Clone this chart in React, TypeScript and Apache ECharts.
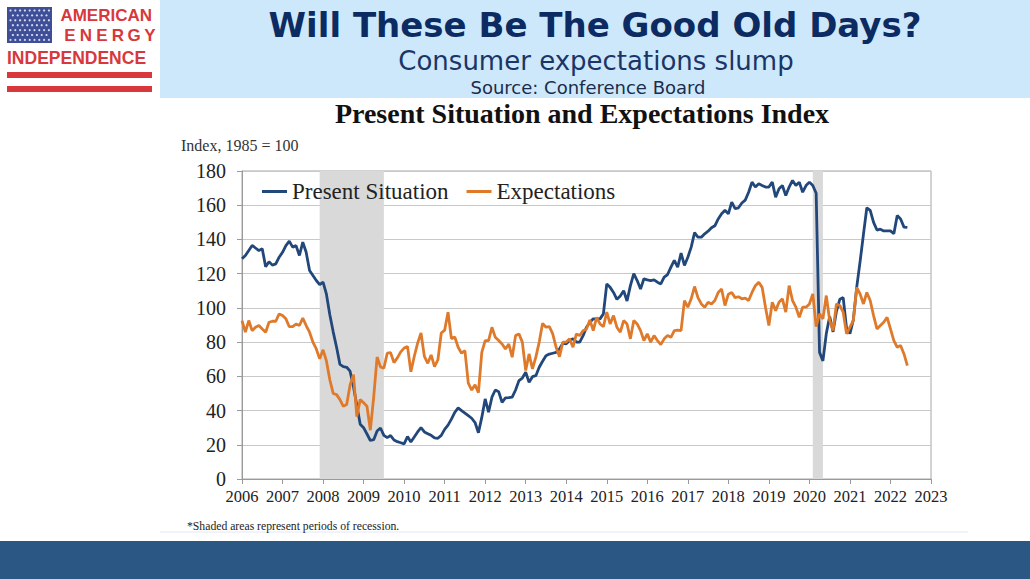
import React, { useEffect, useRef } from "react";
import * as echarts from "echarts";

const startYear = 2006;
const seriesNames = ["Present Situation", "Expectations"];
const xMin = 2006;
const xMax = 2023;
const yMax = 180;

// Monthly values, Jan 2006 .. Jun 2022
const presentSituation = [
  128.7, 130.6, 133.5, 136.5, 135, 133.5, 134.5, 124, 127, 125, 125.7, 129.6,
  132.5, 136.4, 139, 135.5, 136.4, 130.6, 138.4, 132.5, 121.8, 118.9, 116, 113.6,
  115, 108, 96, 86, 77, 67, 65.7, 65.3, 63, 54, 43, 32,
  30, 26.3, 22.5, 23, 28, 29.8, 25.5, 24.2, 25.4, 22.8, 21.8, 21.2,
  20.5, 24.8, 21.6, 24.5, 27.5, 30, 27.5, 26.5, 25.5, 24, 23.8, 25.5,
  29, 31.5, 35, 39, 41.5, 40, 38.5, 37, 35.5, 33, 27, 36,
  46.8, 39, 47.8, 52, 51, 44.8, 47.4, 47.5, 47.8, 52, 57.5, 59,
  62.4, 56.5, 59.8, 60.4, 65.3, 68.8, 72, 73, 73.5, 74, 76, 79.3,
  79, 80.9, 81.9, 80, 80, 83.8, 88.7, 91.6, 93.6, 93.6, 93.6, 96.5,
  114, 112, 109, 105, 107, 110, 104, 113, 120, 116, 111, 117,
  116.4, 116, 116.4, 115, 114, 118, 119.5, 123.8, 127.7, 123.8, 132, 124.8,
  129.6, 135.5, 144, 141.3, 141.3, 143.3, 144.8, 146.8, 148, 152, 155, 157,
  155, 161.8, 158, 158.5, 161.3, 163, 167.6, 173.5, 170.6, 172.5, 171.5, 170.6,
  170.6, 173.5, 164.7, 169.6, 171.5, 165.7, 170.6, 174.5, 171.5, 173.5, 167.6, 171.5,
  173.5, 171.5, 167, 74, 69, 85, 95, 86, 98, 105, 106, 88,
  85, 93, 112, 127, 143, 158.5, 157, 150, 145.5, 146, 145, 145,
  145, 143.3, 154, 152, 147.2, 147,
];

const expectations = [
  92.6, 85.8, 92.6, 86.7, 88.7, 89.7, 87.7, 85.8, 91.6, 92.2, 92.2, 96.5,
  95.5, 93.6, 89, 89, 90.6, 89.7, 94, 89.7, 85.8, 80, 76, 70.2,
  75.5, 69, 58, 50, 49.3, 46.4, 42.5, 43.5, 55, 61, 36.5, 46.4,
  44.5, 42.5, 28.5, 48, 71.3, 65.5, 64.7, 73.5, 73.8, 68, 70.8, 74.3,
  76.5, 77.5, 62.7, 71.6, 79.4, 85.3, 71.6, 67.6, 72.5, 65.7, 69.6, 85.3,
  87, 97.5, 82, 83, 77, 73.5, 75, 56, 52, 55, 50.5, 74,
  80.9, 80.9, 88.7, 82.8, 80.9, 78.9, 76, 78.9, 71.2, 83.8, 84.8, 80,
  63.4, 73.1, 64.3, 71.2, 80, 91, 88.7, 89, 84.8, 77, 71.5, 80,
  80, 81.9, 77, 84.8, 83.8, 86.7, 87.7, 93, 86.7, 94.5, 90.6, 89,
  97.5, 90.6, 95.5, 88.7, 85.8, 92.6, 90.6, 81.9, 92.6, 90.6, 86.7, 80.9,
  84.8, 80, 83.8, 80.9, 78.6, 81.9, 83.8, 82.8, 86.7, 87, 86.7, 104.3,
  100.4, 105.3, 112.5, 106, 102.3, 100.4, 103.3, 102.3, 104.3, 109, 111, 101.4,
  108, 109, 106, 106.5, 105.3, 105.7, 104.3, 109, 113, 115, 112, 100.4,
  89.7, 103.3, 98.4, 103.3, 105.3, 97.5, 113, 104.3, 100.4, 94.5, 100.4, 100.4,
  102.3, 108.2, 89, 96.5, 93.6, 107.2, 92.6, 86.7, 102.3, 101.4, 97.5, 84.8,
  88.7, 92.6, 112, 108.2, 102.3, 109, 104.3, 95.5, 87.7, 89.7, 91.6, 94.5,
  87.7, 80.9, 77, 78, 73.1, 66.3,
];

// Recession periods (decimal years)
const recessions = [
  [2007.917, 2009.5],
  [2020.083, 2020.333],
];

const BLUE = "#22477b";
const ORANGE = "#e07a2b";
const RED = "#d8383c";

function txt(text: string, x: number, y: number, font: string, fill: string, align = "left") {
  return {
    type: "text",
    style: { text, x, y, textAlign: align, align, textVerticalAlign: "middle", verticalAlign: "middle", font, fill },
  };
}

function buildLogo() {
  const els: any[] = [];
  els.push({ type: "rect", shape: { x: 7, y: 7, width: 45, height: 36 }, style: { fill: "#3e4f98" } });
  for (let r = 0; r < 7; r++) {
    for (let c = 0; c < 9; c++) {
      const off = r % 2 === 0 ? 0 : 2.4;
      const cx = 10.5 + c * 4.8 + off;
      if (cx > 50) continue;
      els.push({
        type: "circle",
        shape: { cx, cy: 10.5 + r * 4.9, r: 1.1 },
        style: { fill: "#d6dbf0" },
      });
    }
  }
  els.push(txt("AMERICAN", 152, 15.5, "bold 17px 'Liberation Sans'", RED, "right"));
  const energy = ["E", "N", "E", "R", "G", "Y"];
  energy.forEach((ch, i) => {
    els.push(txt(ch, 70 + i * 16, 35.5, "bold 17px 'Liberation Sans'", RED, "center"));
  });
  els.push(txt("INDEPENDENCE", 7, 57.5, "bold 17.5px 'Liberation Sans'", RED, "left"));
  els.push({ type: "rect", shape: { x: 7, y: 72, width: 145, height: 6 }, style: { fill: RED } });
  els.push({ type: "rect", shape: { x: 7, y: 86, width: 145, height: 6 }, style: { fill: RED } });
  return els;
}

export default function App() {
  const ref = useRef<HTMLDivElement>(null);
  useEffect(() => {
    document.body.style.margin = "0";
    const chart = echarts.init(ref.current!, null, { renderer: "svg" });
    const toPoints = (arr: number[]) => arr.map((v, i) => [startYear + i / 12, v]);
    const serifFont = "'Liberation Serif', 'Times New Roman', serif";
    const option: any = {
      animation: false,
      backgroundColor: "#ffffff",
      grid: {
        left: 242,
        right: 99,
        top: 171,
        bottom: 100,
        show: true,
        borderColor: "#a6a6a6",
        borderWidth: 1,
        backgroundColor: "transparent",
      },
      legend: {
        left: 257,
        top: 175,
        icon: "rect",
        itemWidth: 25,
        itemHeight: 3,
        itemGap: 18,
        data: seriesNames,
        textStyle: { fontFamily: serifFont, fontSize: 23, color: "#222" },
      },
      xAxis: {
        type: "value",
        min: xMin,
        max: xMax,
        interval: 1,
        axisLine: { show: true, lineStyle: { color: "#9a9a9a" } },
        axisTick: { show: true, length: 5, lineStyle: { color: "#9a9a9a" } },
        splitLine: { show: false },
        axisLabel: {
          margin: 9,
          fontFamily: serifFont,
          fontSize: 16.5,
          color: "#222",
          formatter: (v: number) => String(Math.round(v)),
        },
      },
      yAxis: {
        type: "value",
        min: 0,
        max: yMax,
        interval: 20,
        axisLine: { show: true, lineStyle: { color: "#9a9a9a" } },
        axisTick: { show: true, length: 5, lineStyle: { color: "#9a9a9a" } },
        splitLine: { show: true, lineStyle: { color: "#c9c9c9", width: 1 } },
        axisLabel: { margin: 16, fontFamily: serifFont, fontSize: 20, color: "#222" },
      },
      series: [
        {
          type: "line",
          name: "recessions",
          data: [],
          silent: true,
          z: 0,
          markArea: {
            silent: true,
            itemStyle: { color: "#d9d9d9" },
            data: recessions.map(([a, b]) => [{ xAxis: a }, { xAxis: b }]),
          },
        },
        {
          type: "line",
          name: seriesNames[0],
          data: toPoints(presentSituation),
          showSymbol: false,
          color: BLUE,
          lineStyle: { width: 2.8, color: BLUE },
          z: 3,
        },
        {
          type: "line",
          name: seriesNames[1],
          data: toPoints(expectations),
          showSymbol: false,
          color: ORANGE,
          lineStyle: { width: 2.8, color: ORANGE },
          z: 4,
        },
      ],
      graphic: [
        { type: "rect", z: -1, shape: { x: 160, y: 0, width: 870, height: 98 }, style: { fill: "#cde8fa" } },
        { type: "rect", z: -1, shape: { x: 0, y: 541, width: 1030, height: 38 }, style: { fill: "#2a5783" } },
        { type: "line", z: -1, shape: { x1: 160, y1: 532, x2: 968, y2: 532 }, style: { stroke: "#e4e8f2", lineWidth: 1 } },
        ...buildLogo(),
        txt("Will These Be The Good Old Days?", 595, 25, "bold 34px 'DejaVu Sans'", "#0c2b62", "center"),
        txt("Consumer expectations slump", 596, 61, "26px 'DejaVu Sans'", "#1a3566", "center"),
        txt("Source: Conference Board", 588, 87, "18px 'DejaVu Sans'", "#1c2c4c", "center"),
        txt("Present Situation and Expectations Index", 582, 113, "bold 28px 'Liberation Serif'", "#111", "center"),
        txt("Index, 1985 = 100", 181, 145, "16px 'Liberation Serif'", "#333", "left"),
        txt("*Shaded areas represent periods of recession.", 187, 526, "11.7px 'Liberation Serif'", "#222", "left"),
      ],
    };
    chart.setOption(option);
    return () => chart.dispose();
  }, []);
  return <div ref={ref} style={{ width: 1030, height: 579 }} />;
}
